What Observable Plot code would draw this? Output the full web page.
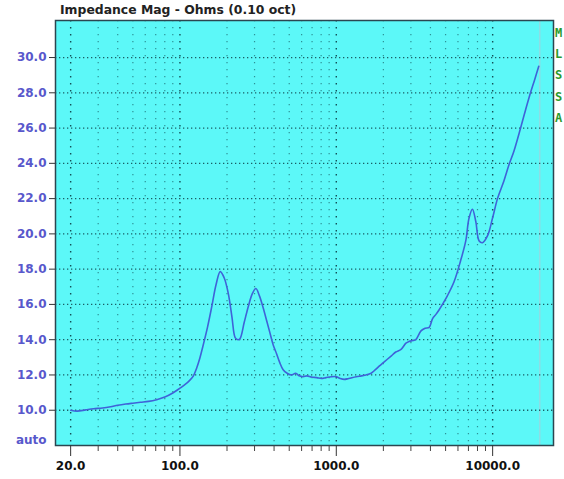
<!DOCTYPE html>
<html>
<head>
<meta charset="utf-8">
<script src="https://cdn.jsdelivr.net/npm/d3@7"></script>
<script src="https://cdn.jsdelivr.net/npm/@observablehq/plot@0.6"></script>
<style>
  html, body { margin: 0; padding: 0; background: #fff; }
  #wrap { position: relative; width: 564px; height: 479px; overflow: hidden; }
  #title { position: absolute; left: 60px; top: 3px; font: bold 12.4px "DejaVu Sans", sans-serif; line-height: 14px; color: #222; white-space: nowrap; }
  #brand { position: absolute; left: 555px; top: 23px; font: bold 12px "DejaVu Sans Mono", monospace; line-height: 21.2px; color: #2a9a2a; }
  #chart { position: absolute; left: 0; top: 0; }
</style>
</head>
<body>
<div id="wrap">
  <div id="chart"></div>
  <div id="title"></div>
  <div id="brand"></div>
</div>
<script>
// ---- data ----
const titleText = "Impedance Mag - Ohms (0.10 oct)";
const brandLetters = ["M", "L", "S", "S", "A"];

const freq = [20, 22, 25, 28, 32, 36, 40, 45, 50, 56, 63, 71, 80, 90, 100, 108, 115, 122, 128, 134, 140, 150, 160, 170, 181, 192, 204, 215, 226, 235, 242, 258, 274, 290, 306, 322, 341, 358, 376, 395, 415, 435, 457, 485, 517, 550, 580, 613, 650, 693, 750, 802, 860, 929, 1000, 1060, 1124, 1200, 1340, 1450, 1550, 1670, 1780, 1880, 2000, 2240, 2400, 2595, 2790, 2920, 3080, 3220, 3480, 3700, 3929, 4129, 4350, 4549, 4850, 5141, 5672, 6248, 6730, 7064, 7423, 7802, 8197, 8613, 9280, 9987, 10740, 11800, 12700, 13690, 15090, 16200, 17460, 18500, 19720];
const impedance = [10.0, 9.95, 10.02, 10.08, 10.13, 10.2, 10.28, 10.35, 10.4, 10.45, 10.5, 10.6, 10.75, 10.98, 11.25, 11.46, 11.68, 11.95, 12.4, 12.95, 13.6, 14.7, 15.9, 17.1, 17.86, 17.5, 16.6, 15.3, 14.1, 14.0, 14.05, 15.0, 15.9, 16.6, 16.9, 16.5, 15.8, 15.1, 14.4, 13.7, 13.2, 12.7, 12.3, 12.1, 12.0, 12.1, 11.95, 11.9, 11.95, 11.88, 11.85, 11.8, 11.85, 11.9, 11.9, 11.8, 11.75, 11.8, 11.9, 11.95, 12.0, 12.1, 12.3, 12.5, 12.7, 13.07, 13.3, 13.45, 13.8, 13.9, 13.95, 14.0, 14.5, 14.65, 14.7, 15.2, 15.45, 15.7, 16.1, 16.5, 17.3, 18.5, 19.6, 20.9, 21.4, 20.7, 19.6, 19.5, 19.9, 20.9, 22.0, 23.0, 23.9, 24.7, 26.0, 27.0, 28.0, 28.7, 29.5];

const xMajorTicks = [20, 100, 1000, 10000];
const xMinorTicks = [30, 40, 50, 60, 70, 80, 90, 200, 300, 400, 500, 600, 700, 800, 900, 2000, 3000, 4000, 5000, 6000, 7000, 8000, 9000];
const xLimitLine = [20000];
const yTicks = [10, 12, 14, 16, 18, 20, 22, 24, 26, 28, 30];
const yAutoTick = [8.3];
const yAutoLabel = "auto";
const xDomain = [16, 24500];
const yDomain = [8, 32.1];

// ---- build ----
const data = freq.map((f, i) => ({f, z: impedance[i]}));

document.getElementById("title").textContent = titleText;
document.getElementById("brand").innerHTML = brandLetters.map(c => `<div>${c}</div>`).join("");

const chart = Plot.plot({
  width: 564,
  height: 479,
  marginTop: 20,
  marginRight: 11,
  marginBottom: 34,
  marginLeft: 55,
  style: {fontFamily: "DejaVu Sans, sans-serif", fontSize: "12px", fontWeight: "bold", background: "transparent"},
  x: {type: "log", domain: xDomain, label: null},
  y: {domain: yDomain, label: null},
  marks: [
    Plot.frame({fill: "#5cf8f8", stroke: "none"}),
    Plot.ruleX(xLimitLine, {stroke: "#8fdce4", strokeWidth: 1.5}),
    Plot.ruleX(xMinorTicks, {stroke: "#1d6f76", strokeWidth: 1.2, strokeDasharray: "1.3,5.7", strokeOpacity: 0.75}),
    Plot.ruleX(xMajorTicks, {stroke: "#134f57", strokeWidth: 1.4, strokeDasharray: "1.4,5.6"}),
    Plot.ruleY(yTicks, {stroke: "#1a5f66", strokeWidth: 1.3, strokeDasharray: "1.3,2.7"}),
    Plot.line(data, {x: "f", y: "z", stroke: "#3f63d8", strokeWidth: 1.6, curve: "catmull-rom"}),
    Plot.frame({stroke: "#2b4650", strokeWidth: 1.5}),
    Plot.axisX(xMajorTicks, {tickSize: 11, tickPadding: 5, stroke: "#333", fill: "#111", tickFormat: d => d.toFixed(1), label: null}),
    Plot.axisX(xMinorTicks, {tickSize: 6, stroke: "#444", tickFormat: () => "", label: null}),
    Plot.axisY(yTicks, {tickSize: 6, tickPadding: 3, stroke: "#333", fill: "#5858cc", tickFormat: d => d.toFixed(1), label: null}),
    Plot.axisY(yAutoTick, {tickSize: 0, tickPadding: 9, fill: "#5858cc", tickFormat: () => yAutoLabel, label: null})
  ]
});
document.getElementById("chart").appendChild(chart);
</script>
</body>
</html>
